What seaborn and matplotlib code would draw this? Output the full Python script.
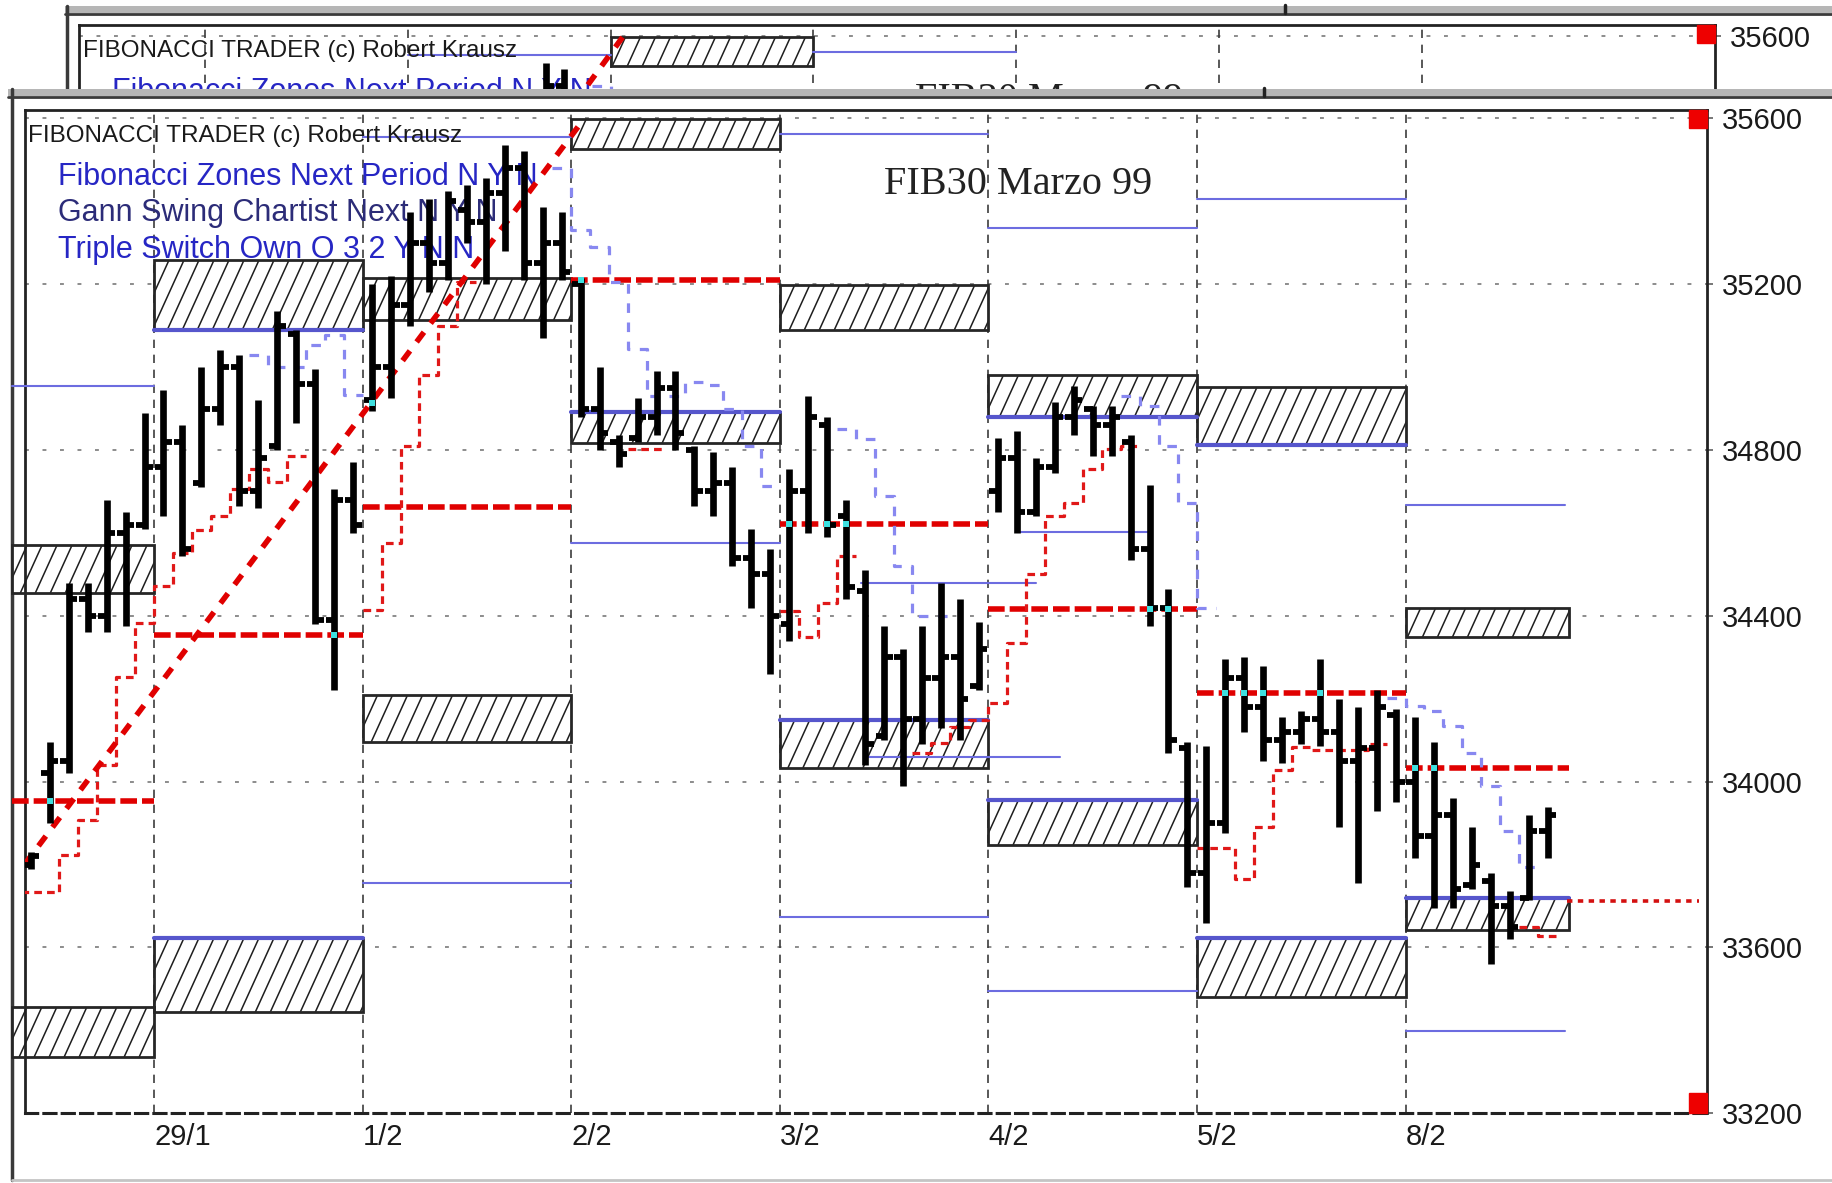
import numpy as np
import pandas as pd
import seaborn as sns
import matplotlib.pyplot as plt
from matplotlib.patches import Rectangle
from matplotlib.lines import Line2D
from matplotlib.collections import LineCollection

sns.set_style("white")
plt.rcParams['font.family'] = ['Liberation Sans', 'DejaVu Sans']

# ---- values (FIB30 Marzo 99, intraday bars) ----
bar_idx = list(range(-7, 74))
highs = [33830, 34095, 34480, 34480, 34680, 34650, 34890,
         34945, 34860, 35000, 35040, 35030, 34920, 35135, 35090, 34995, 34705, 34770,
         35200, 35220, 35375, 35405, 35425, 35440, 35455, 35535, 35520, 35385, 35375,
         35215, 35000, 34835, 34925, 34990, 34990, 34810, 34795, 34760, 34610, 34560,
         34755, 34930, 34880, 34680, 34510, 34375, 34320, 34375, 34480, 34440, 34385,
         34830, 34845, 34780, 34915, 34955, 34905, 34905, 34835, 34715, 34465, 34095,
         34085, 34295, 34300, 34280, 34155, 34170, 34295, 34200, 34180, 34220, 34175,
         34155, 34095, 33960, 33890, 33780, 33735, 33920, 33940]
lows = [33790, 33900, 34020, 34360, 34360, 34375, 34610,
        34640, 34545, 34710, 34860, 34665, 34660, 34800, 34865, 34380, 34220, 34600,
        34895, 34925, 35100, 35180, 35210, 35300, 35200, 35280, 35210, 35070, 35210,
        34880, 34800, 34760, 34820, 34835, 34800, 34665, 34640, 34520, 34420, 34260,
        34340, 34600, 34590, 34440, 34040, 34100, 33990, 34090, 34130, 34100, 34220,
        34650, 34600, 34640, 34745, 34835, 34785, 34785, 34535, 34375, 34070, 33745,
        33660, 33875, 34120, 34050, 34045, 34090, 34085, 33890, 33755, 33930, 33950,
        33815, 33695, 33695, 33740, 33560, 33620, 33715, 33815]
opens = [33800, 34020, 34050, 34440, 34400, 34600, 34620,
         34760, 34820, 34720, 34900, 35000, 34700, 34810, 35080, 34960, 34390, 34680,
         34920, 35000, 35150, 35300, 35250, 35380, 35350, 35420, 35480, 35250, 35300,
         35200, 34900, 34820, 34830, 34880, 34950, 34800, 34700, 34720, 34540, 34500,
         34380, 34700, 34860, 34640, 34460, 34110, 34300, 34150, 34250, 34300, 34230,
         34700, 34780, 34650, 34760, 34880, 34900, 34860, 34820, 34560, 34420, 34080,
         33780, 33900, 34250, 34180, 34100, 34120, 34150, 34120, 34050, 34080, 34160,
         34000, 33870, 33920, 33750, 33760, 33700, 33720, 33880]
closes = [33820, 34050, 34440, 34400, 34600, 34620, 34760,
          34820, 34560, 34900, 35000, 34700, 34780, 35100, 34960, 34390, 34680, 34620,
          35000, 35150, 35300, 35250, 35400, 35350, 35420, 35480, 35250, 35300, 35230,
          34900, 34840, 34790, 34880, 34950, 34840, 34700, 34720, 34540, 34500, 34400,
          34700, 34880, 34620, 34470, 34090, 34300, 34150, 34250, 34300, 34200, 34320,
          34780, 34650, 34760, 34880, 34920, 34860, 34880, 34560, 34420, 34100, 33780,
          33900, 34250, 34180, 34100, 34120, 34150, 34120, 34050, 34080, 34180, 34000,
          33870, 33920, 33740, 33800, 33700, 33650, 33880, 33920]

# swing lines (None = not drawn)
swing_low = [33733, 33733, 33822, 33907, 34040, 34253, 34382,
             34471, 34552, 34608, 34641, 34705, 34754, 34722, 34786, None, None, None,
             34414, 34576, 34810, 34980, 35100, 35206, None, None, None, None, None,
             None, None, None, 34802, 34802, None, None, None, None, None, None,
             34411, 34350, 34431, 34544, None, None, None, 34069, 34093, 34132, 34149,
             34189, 34335, 34500, 34641, 34673, 34754, 34802, 34810, None, None, None,
             33840, 33840, 33766, 33890, 34028, 34084, 34076, 34076, 34076, 34090, None,
             None, None, None, None, None, None, 33649, 33628]
swing_high = [None, None, None, None, None, None, None,
              None, None, None, None, None, 35029, 35000, 35000, 35053, 35077, 34932,
              None, None, None, None, None, None, None, None, None, None, 35480,
              35330, 35290, 35206, 35044, 34931, 34931, 34964, 34956, 34899, 34810, 34713,
              None, None, None, 34850, 34826, 34689, 34520, 34399, 34399, None, None,
              None, None, None, None, None, None, None, 34931, 34907, 34810, 34673,
              34420, None, None, None, None, None, None, None, None, None, 34202,
              34183, 34170, 34135, 34069, 33990, 33882, 33794, None]

day_lines = [-0.5, 10.5, 21.5, 32.5, 43.5, 54.5, 65.5]
day_labels = ['29/1', '1/2', '2/2', '3/2', '4/2', '5/2', '8/2']
day_start = [-7.99, -0.5, 10.5, 21.5, 32.5, 43.5, 54.5, 65.5]
day_end = [-0.5, 10.5, 21.5, 32.5, 43.5, 54.5, 65.5, 74.1]

pivot = [33953, 34354, 34662, 35210, 34621, 34416, 34214, 34033]
up_lo = [34455, 35089, 35113, 35527, 35089, 34880, 34811, 34348]
up_hi = [34570, 35258, 35214, 35598, 35198, 34980, 34951, 34418]
up_blue = ['', 'bottom', '', '', '', 'bottom', 'bottom', '']
dn_lo = [33335, 33444, 34095, 34816, 34033, 33847, 33481, 33642]
dn_hi = [33457, 33623, 34209, 34891, 34149, 33955, 33623, 33719]
dn_blue = ['', 'top', '', 'top', 'top', 'top', 'top', 'top']

thin_x0 = [-7.99, 10.5, 10.5, 21.5, 32.5, 32.5, 36.8, 37.2, 43.5, 43.5, 45.0, 54.5, 65.5, 65.5]
thin_x1 = [-0.5, 21.5, 21.5, 32.5, 43.5, 43.5, 46.0, 47.3, 54.5, 54.5, 52.1, 65.5, 73.9, 73.9]
thin_y = [34955, 33755, 35555, 34575, 35562, 33673, 34478, 34059, 35336, 33495, 34603, 35406, 34667, 33398]

diag_x = [-7.33, 22.2]
diag_y = [33800, 35600]

cyan_x = [-6, 9, 11, 22, 33, 35, 36, 52, 53, 56, 57, 58, 61, 66, 67]
cyan_y = [33953, 34354, 34913, 35210, 34621, 34621, 34621, 34416, 34416, 34214, 34214, 34214, 34214, 34033, 34033]

price_ticks = [33200, 33600, 34000, 34400, 34800, 35200, 35600]
indicator_lines = ['Fibonacci Zones Next Period N Y N', 'Gann Swing Chartist Next N Y N',
                   'Triple Switch Own O 3 2 Y N N']

W, H = 1832, 1183
XLIM = (-7.33, 81.4)


def step_frame(values):
    rows = []
    seg = 0
    gap = True
    for i, v in zip(bar_idx, values):
        if v is None:
            gap = True
            continue
        if gap:
            seg += 1
            gap = False
        rows.append((i - 0.5, v, seg))
        rows.append((i + 0.5, v, seg))
    return pd.DataFrame(rows, columns=['x', 'price', 'seg'])


def hatch_zone(ax, x0, x1, lo, hi, px_bar, px_unit):
    rect = Rectangle((x0, lo), x1 - x0, hi - lo, facecolor='white', edgecolor='none',
                     zorder=2.5, clip_on=False)
    ax.add_patch(rect)
    run = (hi - lo) * px_unit / 2.2 / px_bar
    segs = [[(s, lo), (s + run, hi)] for s in np.arange(x0 - run, x1, 15 / px_bar)]
    lc = LineCollection(segs, colors='#1e1e1e', linewidths=1.1, zorder=2.6)
    ax.add_collection(lc)
    lc.set_clip_path(rect)
    ax.add_patch(Rectangle((x0, lo), x1 - x0, hi - lo, fill=False, edgecolor='#262626',
                           lw=2, zorder=2.7, clip_on=False))


def draw_chart(ax, ylim, w_px, h_px, front=True):
    px_bar = w_px / (XLIM[1] - XLIM[0])
    px_unit = h_px / (ylim[1] - ylim[0])

    # grid
    for p in price_ticks[1:]:
        ax.axhline(p, color='#8c8c8c', lw=1.4, ls=(0, (2, 7)), zorder=1)
    for d in day_lines:
        ax.axvline(d, color='#3c3c3c', lw=1.2, ls=(0, (5, 4)), zorder=1)

    # fibonacci zones
    for k in range(len(day_start)):
        x0, x1 = day_start[k], day_end[k]
        hatch_zone(ax, x0, x1, up_lo[k], up_hi[k], px_bar, px_unit)
        hatch_zone(ax, x0, x1, dn_lo[k], dn_hi[k], px_bar, px_unit)
        if up_blue[k]:
            yb = up_hi[k] if up_blue[k] == 'top' else up_lo[k]
            ax.plot([x0, x1], [yb, yb], color='#5656cc', lw=3, zorder=2.8, clip_on=False)
        if dn_blue[k]:
            yb = dn_hi[k] if dn_blue[k] == 'top' else dn_lo[k]
            ax.plot([x0, x1], [yb, yb], color='#5656cc', lw=3, zorder=2.8, clip_on=False)
        ax.plot([x0, x1], [pivot[k], pivot[k]], color='#e00000', lw=4,
                ls=(0, (3.0, 0.9)), zorder=4, clip_on=False)

    for x0, x1, y in zip(thin_x0, thin_x1, thin_y):
        ax.plot([x0, x1], [y, y], color='#6c6ce0', lw=1.5, zorder=2.9, clip_on=False)
    ax.plot([74.0, 81.0], [33713, 33713], color='#d41010', lw=2.6, ls=(0, (1.5, 1.5)), zorder=4)

    # swing chartist lines
    sns.lineplot(data=step_frame(swing_low), x='x', y='price', units='seg', estimator=None,
                 sort=False, ax=ax, color='#e01818', lw=2.3, linestyle=(0, (2.4, 1.6)), zorder=4)
    sns.lineplot(data=step_frame(swing_high), x='x', y='price', units='seg', estimator=None,
                 sort=False, ax=ax, color='#8888f0', lw=2.3, linestyle=(0, (3, 3)), zorder=4)

    ax.plot(diag_x, diag_y, color='#e00000', lw=4, ls=(0, (2.2, 2.0)), zorder=4)

    # OHLC bars
    idx = np.array(bar_idx, dtype=float)
    ax.vlines(idx, lows, highs, color='black', lw=4.8, zorder=5)
    ax.hlines(opens, idx - 0.45, idx, color='black', lw=4.2, zorder=5)
    ax.hlines(closes, idx, idx + 0.45, color='black', lw=4.2, zorder=5)
    ax.scatter(cyan_x, cyan_y, marker='s', s=22, color='#3ee0e0', zorder=6, linewidths=0)

    # header texts (the back window only shows its top strip)
    ax.annotate('FIBONACCI TRADER (c) Robert Krausz', xy=(0, 1), xycoords='axes fraction',
                xytext=(4, -26), textcoords='offset pixels', ha='left', va='center',
                fontsize=17.5, color='#1a1a1a', zorder=3)
    shown = indicator_lines if front else indicator_lines[:1]
    for txt, dy, col in zip(shown, [-67, -103, -140], ['#2626c4', '#2c2c78', '#2626c4']):
        ax.annotate(txt, xy=(0, 1), xycoords='axes fraction', xytext=(33, dy),
                    textcoords='offset pixels', ha='left', va='center', fontsize=22,
                    color=col, zorder=3)
    ax.annotate('FIB30 Marzo 99', xy=(38.0, 1), xycoords=('data', 'axes fraction'),
                xytext=(0, -75), textcoords='offset pixels', ha='left', va='center',
                fontsize=29, color='#222222', family=['Liberation Serif', 'DejaVu Serif'],
                zorder=3)

    # red corner squares
    sw, sh = 18 / w_px, 18 / h_px
    ax.add_patch(Rectangle((1 - sw, 1 - sh), sw, sh, transform=ax.transAxes,
                           color='#ee0000', zorder=7, clip_on=False))
    ax.add_patch(Rectangle((1 - sw, 0), sw, 20 / h_px, transform=ax.transAxes,
                           color='#ee0000', zorder=7, clip_on=False))

    ax.set_xlim(*XLIM)
    ax.set_ylim(*ylim)
    ax.set_xlabel('')
    ax.set_ylabel('')
    ax.set_facecolor('white')
    if front:
        ax.set_yticks(price_ticks)
        ax.set_yticklabels([str(p) for p in price_ticks])
        ax.set_xticks(day_lines)
        ax.set_xticklabels(day_labels)
        for lab in ax.get_xticklabels():
            lab.set_ha('left')
    else:
        ax.set_yticks(price_ticks[-1:])
        ax.set_yticklabels([str(price_ticks[-1])])
        ax.set_xticks([])
    ax.tick_params(axis='y', left=False, right=True, labelleft=False, labelright=True,
                   length=4, width=1.4, color='#777777', pad=7, labelsize=21,
                   labelcolor='#1a1a1a')
    ax.tick_params(axis='x', length=0, pad=7, labelsize=21, labelcolor='#1a1a1a')
    for side in ['top', 'left', 'right']:
        ax.spines[side].set_color('#222222')
        ax.spines[side].set_linewidth(2)
    ax.spines['bottom'].set_color('#222222')
    ax.spines['bottom'].set_linewidth(2.2)
    ax.spines['bottom'].set_linestyle((0, (4, 2)))


fig = plt.figure(figsize=(W / 100, H / 100), dpi=100)

# window behind
bw, bh = 1715 - 79, 1003.3
ax_back = fig.add_axes([79 / W, (H - 25 - bh) / H, bw / W, bh / H])
ax_back.set_zorder(0)
draw_chart(ax_back, (33206.5, 35626.5), bw, bh, front=False)

# front window
fw, fh = 1707 - 24.5, 1113.3 - 110
ax = fig.add_axes([24.5 / W, (H - 1113.3) / H, fw / W, fh / H])
ax.set_zorder(3)
draw_chart(ax, (33200, 35620), fw, fh)


def fig_line(x0, y0, x1, y1, color, lw, z):
    fig.add_artist(Line2D([x0 / W, x1 / W], [1 - y0 / H, 1 - y1 / H], color=color, lw=lw,
                          zorder=z, transform=fig.transFigure))


def fig_rect(x0, y0, x1, y1, color, z):
    fig.add_artist(Rectangle((x0 / W, 1 - y1 / H), (x1 - x0) / W, (y1 - y0) / H,
                             facecolor=color, edgecolor='none', zorder=z,
                             transform=fig.transFigure))


# frame of the back window
fig_rect(65, 6, W, 13, '#b6b6b6', 1)
fig_line(65, 13.5, W, 13.5, '#3a3a3a', 2, 1)
fig_line(67, 6, 67, 92, '#3a3a3a', 2.5, 1)
fig_line(1285, 5, 1285, 13, '#222222', 2.5, 1)

# front window covers the rest
fig_rect(8, 89, W, H, 'white', 2)
fig_rect(8, 89, W, 96, '#b6b6b6', 2.1)
fig_line(8, 97, W, 97, '#3a3a3a', 2, 2.1)
fig_line(12, 89, 12, 1180, '#3a3a3a', 2.5, 2.1)
fig_line(12, 1180, W, 1180, '#c4c4c4', 2, 2.1)
fig_line(1264, 88, 1264, 96, '#222222', 2.5, 2.1)

fig.savefig('out.png', dpi=100, facecolor='white')
